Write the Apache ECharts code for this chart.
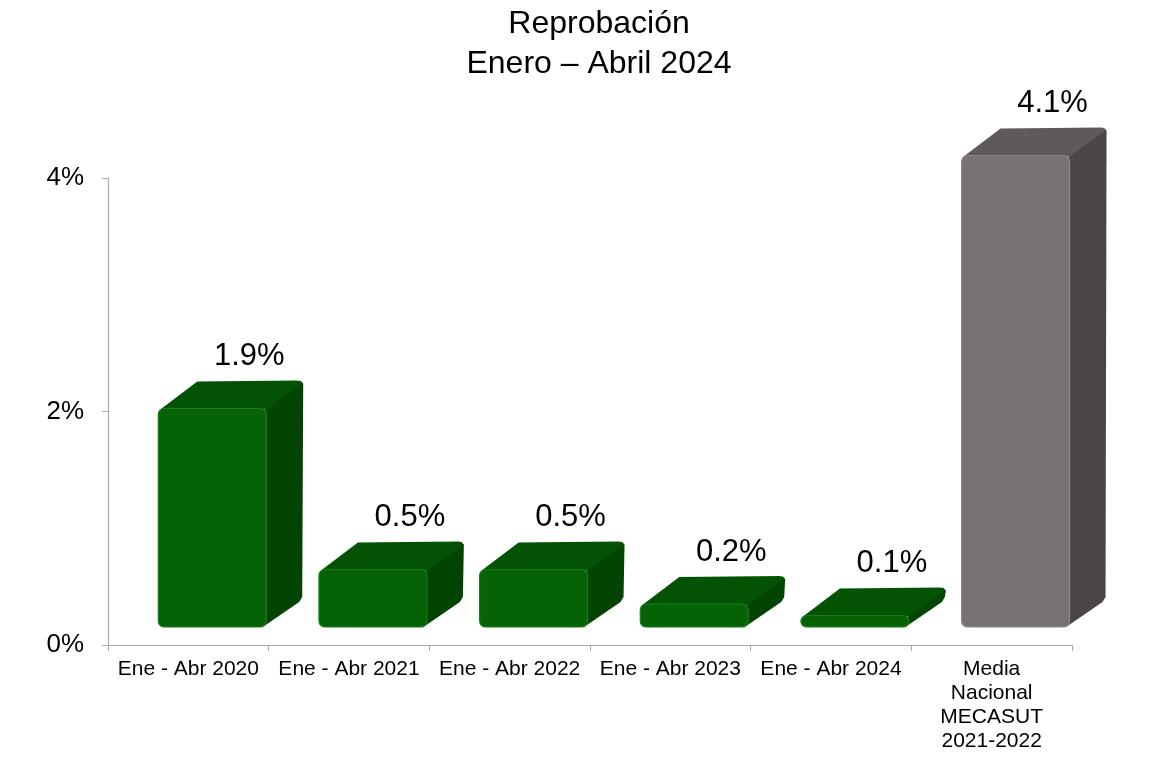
<!DOCTYPE html>
<html>
<head>
<meta charset="utf-8">
<script src="https://cdn.jsdelivr.net/npm/echarts@6/dist/echarts.min.js"></script>
<style>
html,body{margin:0;padding:0;background:#fff;}
#c{width:1176px;height:763px;}
</style>
</head>
<body>
<div id="c"></div>
<script>
const categories = ['Ene - Abr 2020','Ene - Abr 2021','Ene - Abr 2022','Ene - Abr 2023','Ene - Abr 2024','Media\nNacional\nMECASUT\n2021-2022'];
const values = [1.9, 0.5, 0.5, 0.2, 0.1, 4.1];
const yTicks = [0, 2, 4];
const titleText = 'Reprobación\nEnero – Abril 2024';

const FONT = '"Liberation Sans", Arial, sans-serif';
const green = {front:'#056305', frontEdge:'#1b7a1b', top:'#045204', side:'#024502'};
const grey  = {front:'#767372', frontEdge:'#8a8786', top:'#5e5a59', side:'#4a4645'};

const chart = echarts.init(document.getElementById('c'), null, {renderer:'canvas'});

function renderItem(params, api){
  const idx = api.value(0);
  const val = api.value(1);
  const base = api.coord([idx, 0]);
  const top = api.coord([idx, val]);
  const catW = api.size([1, 0])[0];
  const pal = idx === categories.length - 1 ? grey : green;
  const fl = base[0] - catW * 0.187;
  const fw = catW * 0.672;
  const fr = fl + fw;
  const dx = catW * 0.23;
  const dy = 28;
  const fb = base[1] - 18;
  const h = Math.max((base[1] - top[1]) * 0.985, 4);
  const ft = fb - h;
  const r = Math.min(6, h/2);
  return {
    type: 'group',
    children: [
      { type:'polygon', shape:{points:[[fr-2,fb-1],[fr+dx-4,fb-dy+3],[fr+dx-1,fb-dy-2],[fr+dx,ft-dy+3],[fr+dx-3,ft-dy],[fr-2,ft+2]]},
        style:{fill:pal.side} },
      { type:'polygon', shape:{points:[[fl+2,ft+1],[fl+dx+2,ft-dy+1],[fr+dx-5,ft-dy],[fr+dx-1,ft-dy+3],[fr,ft+1]]},
        style:{fill:pal.top} },
      { type:'rect', shape:{x:fl, y:ft, width:fw, height:h, r:r},
        style:{fill:pal.front, stroke:pal.frontEdge, lineWidth:1.2} },
      { type:'text', x: fl + fw/2 + dx, y: ft - dy - 24,
        style:{text: val.toFixed(1) + '%', fill:'#000', font:'31px ' + FONT, align:'center', verticalAlign:'middle'} }
    ]
  };
}

chart.setOption({
  animation:false,
  backgroundColor:'#fff',
  graphic:[{
    type:'text', x:599, y:4,
    style:{text:titleText, fill:'#000', font:'32px ' + FONT, align:'center', verticalAlign:'top', lineHeight:40}
  }],
  grid:{left:108, right:104, top:178, bottom:118},
  xAxis:{
    type:'category',
    data:categories,
    boundaryGap:true,
    axisLine:{lineStyle:{color:'#aaaaaa', width:1.2}},
    axisTick:{show:true, length:6, lineStyle:{color:'#aaaaaa'}},
    axisLabel:{fontFamily:FONT, fontSize:21, color:'#000', margin:12, lineHeight:24, interval:0}
  },
  yAxis:{
    type:'value',
    min:yTicks[0], max:yTicks[yTicks.length-1], interval:2,
    splitLine:{show:false},
    axisLine:{show:true, lineStyle:{color:'#aaaaaa', width:1.2}},
    axisTick:{show:true, length:6, lineStyle:{color:'#aaaaaa'}},
    axisLabel:{fontFamily:FONT, fontSize:26, color:'#000', margin:24, formatter: v => v + '%'}
  },
  series:[{
    type:'custom',
    renderItem: renderItem,
    data: values.map((v,i) => [i, v]),
    clip:false
  }]
});
</script>
</body>
</html>
